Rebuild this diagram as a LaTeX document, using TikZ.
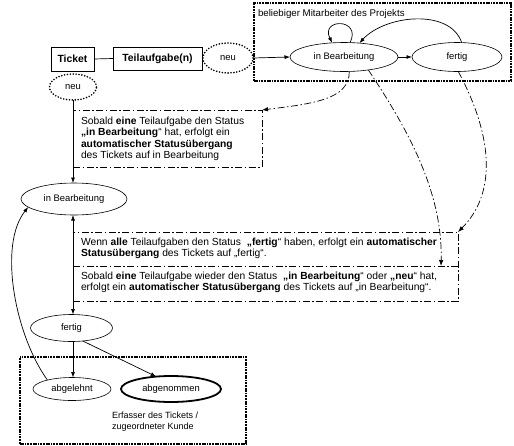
\documentclass[tikz,border=0pt]{standalone}
\usepackage{fontspec}
\setmainfont{Liberation Sans}
\usetikzlibrary{shapes.geometric,arrows.meta,calc}
\begin{document}
\begin{tikzpicture}[x=1pt,y=-1pt,
  every node/.style={inner sep=0pt, outer sep=0pt},
  st/.style={draw, ellipse, line width=0.6pt, font=\fontsize{9.4}{11}\selectfont},
  neustate/.style={draw, ellipse, line width=1.8pt, dash pattern=on 0pt off 2.9pt, line cap=round, font=\fontsize{9.4}{11}\selectfont},
  entity/.style={draw, rectangle, line width=0.7pt, font=\fontsize{10.4}{12}\selectfont\bfseries},
  rolebox/.style={draw, rectangle, line width=1.1pt, dash pattern=on 2.5pt off 0.8pt on 0.8pt off 0.8pt on 0.8pt off 0.8pt},
  ddash/.style={line width=0.6pt, dash pattern=on 7pt off 2.5pt on 1.5pt off 2.5pt},
  notebox/.style={draw, rectangle, ddash},
  autoarrow/.style={ddash, line width=0.7pt, -{Latex[length=6pt,width=4.5pt]}},
  arr/.style={line width=0.7pt, -{Latex[length=5.5pt,width=4pt]}},
  note/.style={align=left, anchor=west, font=\fontsize{10.3}{11.5}\selectfont},
  small/.style={align=left, anchor=west, font=\fontsize{9.7}{11}\selectfont},
]
\useasboundingbox (0,0) rectangle (514,445);

% boxes
\node[rolebox, minimum width=257pt, minimum height=78pt] (topbox) at (382.5,42) {};
\node[rolebox, minimum width=226pt, minimum height=87pt] (botbox) at (133,400.5) {};
\node[notebox, minimum width=189pt, minimum height=57pt] (box1) at (167.5,138.5) {};
\node[notebox, minimum width=385pt, minimum height=69pt] (box2) at (265.5,266.5) {};
\draw[ddash] (box2.west) -- (box2.east);

% labels
\node[small] (lblproj) at (258,14) {beliebiger Mitarbeiter des Projekts};
\node[small, font=\fontsize{9}{11}\selectfont] (lblkunde) at (112,422) {Erfasser des Tickets /\\zugeordneter Kunde};

% entities
\node[entity, minimum width=43pt, minimum height=24pt] (ticket) at (72.5,59) {Ticket};
\node[entity, minimum width=89pt, minimum height=23pt] (teil) at (157.5,58.5) {Teilaufgabe(n)};
\node[neustate, minimum width=50pt, minimum height=30pt] (neu1) at (228,58) {neu};
\node[neustate, minimum width=47pt, minimum height=26pt] (neu2) at (73,87) {neu};

% states top
\node[st, minimum width=108pt, minimum height=29pt] (ib1) at (344,57) {in Bearbeitung};
\node[st, minimum width=90pt, minimum height=29pt] (f1) at (457,57) {fertig};

% states ticket
\node[st, minimum width=106pt, minimum height=32pt] (ib2) at (74,199) {in Bearbeitung};
\node[st, minimum width=82pt, minimum height=27pt] (f2) at (71.5,328) {fertig};
\node[st, minimum width=78pt, minimum height=23pt] (abgl) at (72,389) {abgelehnt};
\node[st, line width=1.8pt, minimum width=100pt, minimum height=26pt] (abgn) at (171,389) {abgenommen};

% note texts
\node[note] (t1) at (81,139) {Sobald \textbf{eine} Teilaufgabe den Status\\\textbf{„in Bearbeitung}“ hat, erfolgt ein\\\textbf{automatischer Statusübergang}\\des Tickets auf in Bearbeitung};
\node[note] (t2) at (81,248.5) {Wenn \textbf{alle} Teilaufgaben den Status \ \textbf{„fertig}“ haben, erfolgt ein \textbf{automatischer}\\\textbf{Statusübergang} des Tickets auf „fertig“.};
\node[note] (t3) at (81,282.5) {Sobald \textbf{eine} Teilaufgabe wieder den Status \ \textbf{„in Bearbeitung}“ oder \textbf{„neu}“ hat,\\erfolgt ein \textbf{automatischer Statusübergang} des Tickets auf „in Bearbeitung“.};

% connectors
\draw[line width=0.7pt] (ticket.east) -- (teil.west);
\draw[arr] (neu1.east) -- (ib1.west);
\draw[arr] (ib1.east) -- (f1.west);
\draw[arr] (ib1.67) .. controls (362,18) and (320,18) .. (ib1.130);
\draw[arr] (f1.72) .. controls (450,8) and (385,15) .. (ib1.42);

\draw[arr] (neu2.south) -- (neu2.south |- ib2.north);
\draw[line width=0.7pt, {Latex[length=5.5pt,width=4pt]}-{Latex[length=5.5pt,width=4pt]}] (neu2.south |- ib2.south) -- (neu2.south |- f2.north);
\draw[arr] (neu2.south |- f2.south) -- (neu2.south |- abgl.north);
\draw[arr] (f2.-49) -- (abgn.140);
\draw[arr] (abgl.160) .. controls (15,335) and (-2,245) .. (ib2.190);

\coordinate (d2) at (441,266);
\draw[autoarrow] (ib1.-70) .. controls (350,100) and (310,104) .. (box1.north east);
\draw[autoarrow] (ib1.-28) .. controls (405,125) and (443,190) .. (d2);
\draw[autoarrow] (f1.-85) .. controls (495,140) and (495,195) .. (box2.north east);
\end{tikzpicture}
\end{document}
